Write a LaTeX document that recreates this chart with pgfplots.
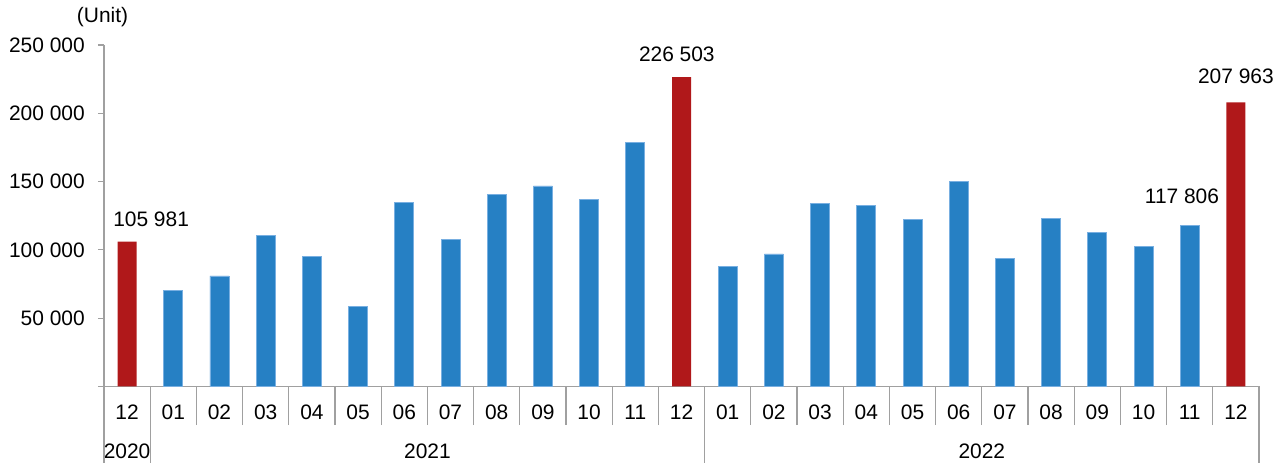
\documentclass[border=0pt]{standalone}
\usepackage{pgfplots}
\pgfplotsset{compat=1.18}
\usepackage{fontspec}
\setmainfont{Liberation Sans}
\definecolor{barblue}{RGB}{38,128,196}
\definecolor{bluedge}{RGB}{120,175,225}
\definecolor{barred}{RGB}{176,24,26}
\definecolor{axgray}{RGB}{160,160,160}
\begin{document}
\begin{tikzpicture}[font=\fontsize{15.7}{18}\selectfont]
\useasboundingbox (-78pt,-62.625pt) rectangle (881.25pt,289.875pt);
\begin{axis}[
  at={(0,0)}, anchor=south west,
  scale only axis, width=866.25pt, height=256.125pt,
  xmin=-0.5, xmax=24.5, ymin=0, ymax=250000,
  axis x line*=bottom, axis y line*=left,
  axis line style={draw=axgray, line width=0.9pt, -},
  ybar, bar width=14.25pt, bar shift=0pt,
  xtick={0,...,24},
  xticklabels={12,01,02,03,04,05,06,07,08,09,10,11,12,01,02,03,04,05,06,07,08,09,10,11,12},
  minor xtick={-0.5,0.5,...,24.5},
  minor tick length=28.9pt,
  major tick length=4.5pt,
  tick align=outside,
  major x tick style={draw=none},
  minor x tick style={draw=axgray, line width=0.9pt},
  major y tick style={draw=axgray, line width=0.9pt},
  ytick={0,50000,100000,150000,200000,250000},
  yticklabels={,50 000,100 000,150 000,200 000,250 000},
  scaled y ticks=false,
  clip=false,
  xticklabel style={anchor=base, inner sep=0pt, yshift=-20.6pt},
  yticklabel style={anchor=east, inner sep=0pt, xshift=-9.75pt},
]
\addplot[fill=barblue, draw=bluedge, line width=0.5pt] coordinates {
 (1,70100) (2,80900) (3,110900) (4,95500) (5,58900) (6,134600) (7,107500)
 (8,140900) (9,146800) (10,137000) (11,178500)
 (13,88000) (14,97000) (15,133800) (16,132600) (17,122400) (18,149900)
 (19,93600) (20,123100) (21,112900) (22,102400) (23,117806)
};
\addplot[fill=barred, draw=none] coordinates {
 (0,105981) (12,226503) (24,207963)
};
\node[anchor=base] at (axis cs:0,105981) [xshift=18pt, yshift=11.25pt] {105 981};
\node[anchor=base] at (axis cs:12,226503) [xshift=-3.5pt, yshift=11.6pt] {226 503};
\node[anchor=base] at (axis cs:24,207963) [yshift=14.3pt] {207 963};
\node[anchor=base] at (axis cs:23,117806) [xshift=-5.8pt, yshift=16.5pt] {117 806};
\node at (rel axis cs:0,1) [xshift=-1.1pt, yshift=21pt] {(Unit)};
\node[anchor=base] at (axis cs:0,0) [yshift=-53.85pt] {2020};
\node[anchor=base] at (axis cs:6.5,0) [yshift=-53.85pt] {2021};
\node[anchor=base] at (axis cs:18.5,0) [yshift=-53.85pt] {2022};
\draw[axgray, line width=0.9pt] (axis cs:-0.5,0) -- ++(0pt,-57.4pt);
\draw[axgray, line width=0.9pt] (axis cs:0.5,0) -- ++(0pt,-57.4pt);
\draw[axgray, line width=0.9pt] (axis cs:12.5,0) -- ++(0pt,-57.4pt);
\draw[axgray, line width=0.9pt] (axis cs:24.5,0) -- ++(0pt,-57.4pt);
\end{axis}
\end{tikzpicture}
\end{document}
